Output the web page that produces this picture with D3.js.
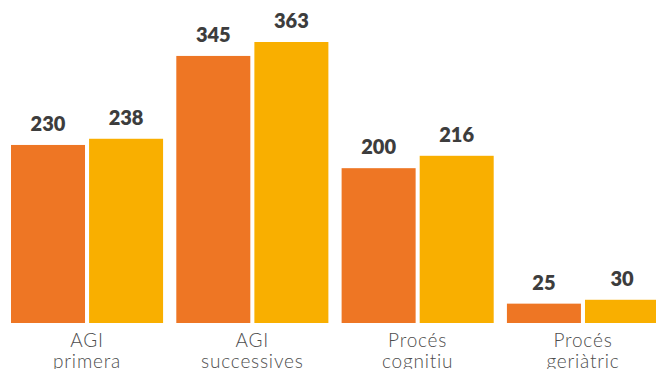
<!DOCTYPE html>
<html>
<head>
<meta charset="utf-8">
<script src="https://cdn.jsdelivr.net/npm/d3@7"></script>
<style>
  html, body { margin: 0; padding: 0; background: #fff; overflow: hidden; }
  svg { display: block; }
</style>
</head>
<body>
<svg id="chart" width="656" height="369"></svg>
<script>
// Categories (two-line labels) and the two series per category
const categories = ["AGI primera", "AGI successives", "Procés cognitiu", "Procés geriàtric"];
const categoryLines = [["AGI", "primera"], ["AGI", "successives"], ["Procés", "cognitiu"], ["Procés", "geriàtric"]];
const seriesKeys = ["a", "b"];
const seriesA = [230, 345, 200, 25];
const seriesB = [238, 363, 216, 30];
const seriesColors = ["#EE7624", "#F9AF00"];

const svg = d3.select("#chart");
const baseline = 323;

const x0 = d3.scaleBand()
  .domain(categories)
  .range([11, 659])
  .paddingInner(0.08)
  .paddingOuter(0);

const x1 = d3.scaleBand()
  .domain(seriesKeys)
  .range([0, x0.bandwidth()])
  .paddingInner(0.052)
  .paddingOuter(0);

const y = d3.scaleLinear()
  .domain([0, 400])
  .range([baseline, baseline - 400 * 0.7741]);

const color = d3.scaleOrdinal().domain(seriesKeys).range(seriesColors);

const rows = categories.map((c, i) => ({
  category: c,
  lines: categoryLines[i],
  values: [
    { key: "a", value: seriesA[i] },
    { key: "b", value: seriesB[i] }
  ]
}));

const groups = svg.selectAll("g.group")
  .data(rows)
  .join("g")
  .attr("class", "group")
  .attr("transform", d => `translate(${x0(d.category)},0)`);

groups.selectAll("rect")
  .data(d => d.values)
  .join("rect")
  .attr("x", d => x1(d.key))
  .attr("y", d => y(d.value))
  .attr("width", x1.bandwidth())
  .attr("height", d => y(0) - y(d.value))
  .attr("fill", d => color(d.key));

// Value labels above each bar
groups.selectAll("text.value")
  .data(d => d.values)
  .join("text")
  .attr("class", "value")
  .attr("x", d => x1(d.key) + x1.bandwidth() / 2)
  .attr("y", d => y(d.value) - 14)
  .attr("text-anchor", "middle")
  .attr("font-family", "Lato, 'Open Sans', sans-serif")
  .attr("font-weight", 800)
  .attr("font-size", 20)
  .attr("fill", "#3d3d3d")
  .text(d => d.value);

// Category labels under the bars
const cat = groups.append("text")
  .attr("x", x0.bandwidth() / 2)
  .attr("y", 347)
  .attr("text-anchor", "middle")
  .attr("font-family", "Lato, 'Open Sans', sans-serif")
  .attr("font-weight", 300)
  .attr("font-size", 19)
  .attr("letter-spacing", "0.8px")
  .attr("fill", "#4d4d4d");

cat.selectAll("tspan")
  .data(d => d.lines)
  .join("tspan")
  .attr("x", x0.bandwidth() / 2)
  .attr("dy", (d, i) => i === 0 ? 0 : 20.5)
  .text(d => d);
</script>
</body>
</html>
